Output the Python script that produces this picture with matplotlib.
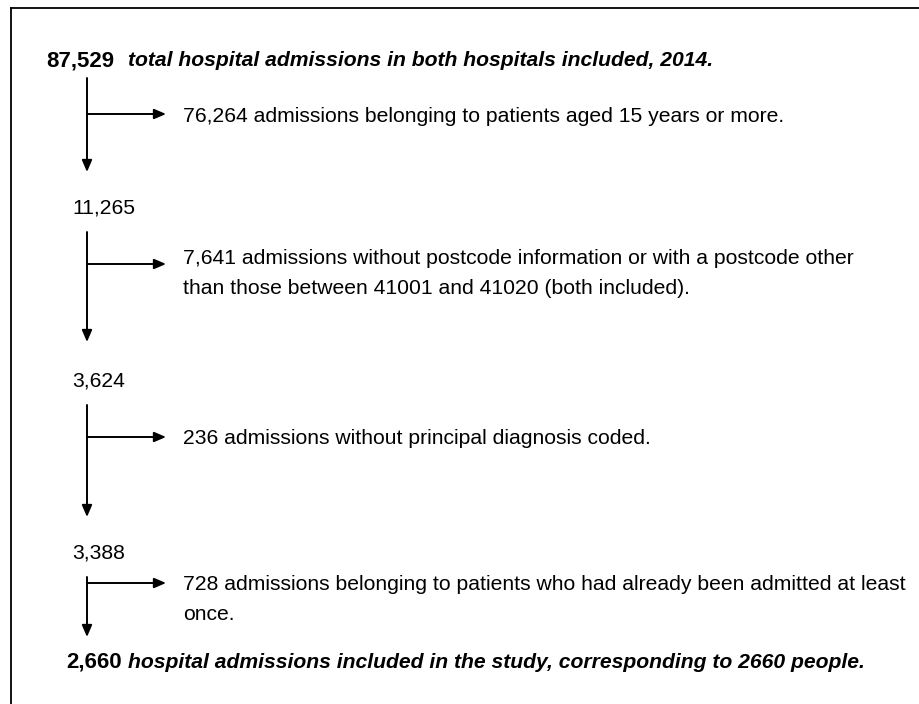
import matplotlib.pyplot as plt

plt.rcParams['font.family'] = ['Liberation Sans', 'DejaVu Sans']

# flow numbers and texts
start_n = "87,529"
start_txt = "total hospital admissions in both hospitals included, 2014."
step_n = ["11,265", "3,624", "3,388"]
excl_txt = [
    ["76,264 admissions belonging to patients aged 15 years or more."],
    ["7,641 admissions without postcode information or with a postcode other",
     "than those between 41001 and 41020 (both included)."],
    ["236 admissions without principal diagnosis coded."],
    ["728 admissions belonging to patients who had already been admitted at least",
     "once."],
]
end_n = "2,660"
end_txt = "hospital admissions included in the study, corresponding to 2660 people."

# layout (pixel coords)
vx = 87
v_top = [78, 232, 405, 577]
v_tip = [172, 342, 517, 637]
h_y = [114, 264, 437, 583]
txt_y = [116, 259, 439, 584]
step_y = [208, 381, 553]

fig = plt.figure(figsize=(9.19, 7.04), dpi=100)
ax = fig.add_axes([0, 0, 1, 1])
ax.set_xlim(0, 919)
ax.set_ylim(704, 0)
ax.axis('off')

# frame: top and left edge only
ax.plot([11, 919], [8, 8], color='black', lw=1.3)
ax.plot([11, 11], [8, 704], color='black', lw=1.3)

fs = 15.2
ax.text(46, 61, start_n, fontsize=fs + 0.8, fontweight='bold', va='center')
ax.text(128, 61, start_txt, fontsize=fs, fontweight='bold', style='italic', va='center')

aprops = dict(arrowstyle='-|>,head_length=0.7,head_width=0.3', color='black', lw=1.4,
              shrinkA=0, shrinkB=0)
for i in range(4):
    ax.annotate('', xy=(vx, v_tip[i]), xytext=(vx, v_top[i]), arrowprops=aprops)
    ax.annotate('', xy=(166, h_y[i]), xytext=(vx, h_y[i]), arrowprops=aprops)
    for j, line in enumerate(excl_txt[i]):
        ax.text(183, txt_y[i] + 30 * j, line, fontsize=fs, va='center')

for n, y in zip(step_n, step_y):
    ax.text(72, y, n, fontsize=fs, va='center')

ax.text(66, 662, end_n, fontsize=fs + 0.8, fontweight='bold', va='center')
ax.text(128, 662, end_txt, fontsize=fs, fontweight='bold', style='italic', va='center')

fig.savefig('out.png', dpi=100)
